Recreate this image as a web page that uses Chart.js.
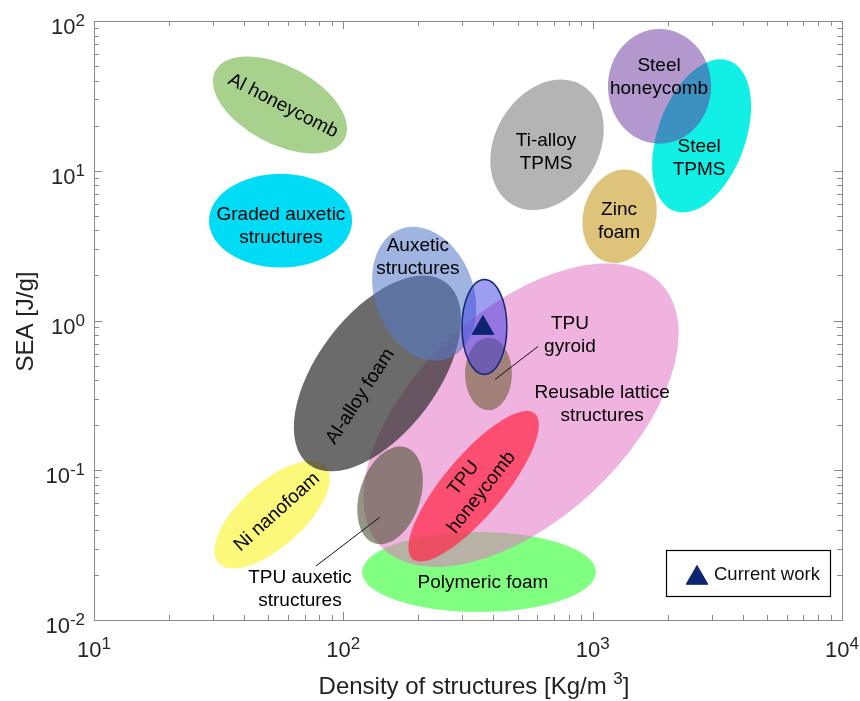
<!DOCTYPE html>
<html>
<head>
<meta charset="utf-8">
<script src="https://cdn.jsdelivr.net/npm/chart.js@4.4.1/dist/chart.umd.min.js"></script>
<style>
  html, body { margin: 0; padding: 0; background: #fff; }
  #chart { display: block; }
</style>
</head>
<body>
<canvas id="chart" width="860" height="701"></canvas>
<script>
// axis ticks (labelled decades)
const xTickValues = [10, 100, 1000, 10000];
const xTickExp = ['1', '2', '3', '4'];
const yTickValues = [0.01, 0.1, 1, 10, 100];
const yTickExp = ['-2', '-1', '0', '1', '2'];

// material regions, in drawing order (bottom first)
const regionNames = [
  'Polymeric foam', 'Ni nanofoam', 'Reusable lattice structures', 'Al-alloy foam',
  'Auxetic structures', 'TPU auxetic structures', 'TPU honeycomb', 'TPU gyroid',
  'Current work', 'Al honeycomb', 'Graded auxetic structures', 'Ti-alloy TPMS',
  'Steel TPMS', 'Steel honeycomb', 'Zinc foam'
];
// centre of each region
const regionDensity = [350, 51.8, 516, 137, 211, 154, 333, 382, 368, 55.7, 56.0, 656, 2735, 1854, 1282];
const regionSEA = [0.0209, 0.0505, 0.233, 0.443, 1.51, 0.068, 0.0782, 0.44, 0.906, 27.5, 4.64, 14.9, 17.1, 36.6, 4.97];
// half extent of each region, in decades
const regionSpanX = [0.469, 0.289, 0.770, 0.457, 0.198, 0.122, 0.381, 0.094, 0.090, 0.293, 0.287, 0.277, 0.321, 0.207, 0.146];
const regionSpanY = [0.267, 0.213, 0.70, 0.40, 0.46, 0.337, 0.20, 0.243, 0.317, 0.26, 0.313, 0.347, 0.293, 0.383, 0.317];

// region labels
const labelText = [
  ['Polymeric foam'], ['Ni nanofoam'], ['Reusable lattice', 'structures'], ['Al-alloy foam'],
  ['Auxetic', 'structures'], ['TPU auxetic', 'structures'], ['TPU', 'honeycomb'], ['TPU', 'gyroid'],
  ['Al honeycomb'], ['Graded auxetic', 'structures'], ['Ti-alloy', 'TPMS'], ['Steel', 'TPMS'],
  ['Steel', 'honeycomb'], ['Zinc', 'foam']
];
const labelDensity = [363, 54.2, 1091, 117, 199, 67, 330, 811, 57.3, 56.2, 650, 2673, 1846, 1276];
const labelSEA = [0.0176, 0.0525, 0.275, 0.311, 2.65, 0.016, 0.0794, 0.80, 27.1, 4.27, 13.2, 12.2, 42.0, 4.61];

// leader lines (gyroid, TPU auxetic)
const leaderFromDensity = [406, 140];
const leaderFromSEA = [0.404, 0.0486];
const leaderToDensity = [604, 77.6];
const leaderToSEA = [0.671, 0.0229];

// current work
const currentDensity = [363];
const currentSEA = [0.89];

// styles
const regionTilt = [0, -42, -43, -53, -20, 18, -50, 0, 0, 28, 0, -60, -70, 0, 15];
const regionColors = [
  'rgb(128,255,128)', '#fcf87a', 'rgba(228,115,195,0.55)', 'rgba(50,50,50,0.72)',
  'rgba(88,123,202,0.57)', 'rgba(80,85,58,0.62)', 'rgba(255,40,70,0.72)', 'rgba(130,110,80,0.7)',
  'rgba(60,60,230,0.5)', '#a9d18e', '#00dcf5', '#b4b4b4',
  '#12f0e6', 'rgba(101,49,155,0.5)', '#dec47a'
];
const regionBorders = [null, null, null, null, null, null, null, null, '#14286e', null, null, null, null, null, null];
const labelAngle = [0, -42, 0, -57, 0, 0, -52, 0, 27, 0, 0, 0, 0, 0];

const FONT = '"Liberation Sans", Arial, Helvetica, sans-serif';
const NAVY = '#0d2470';
const AXIS = '#8a8a8a';

const ashbyPlugin = {
  id: 'ashby',
  beforeDatasetsDraw(chart) {
    const { ctx } = chart;
    const xs = chart.scales.x;
    const ys = chart.scales.y;
    ctx.save();
    regionNames.forEach((name, i) => {
      const cx = xs.getPixelForValue(regionDensity[i]);
      const cy = ys.getPixelForValue(regionSEA[i]);
      const rx = xs.getPixelForValue(regionDensity[i] * Math.pow(10, regionSpanX[i])) - cx;
      const ry = cy - ys.getPixelForValue(regionSEA[i] * Math.pow(10, regionSpanY[i]));
      ctx.beginPath();
      ctx.ellipse(cx, cy, rx, ry, regionTilt[i] * Math.PI / 180, 0, Math.PI * 2);
      ctx.fillStyle = regionColors[i];
      ctx.fill();
      if (regionBorders[i]) {
        ctx.lineWidth = 1.5;
        ctx.strokeStyle = regionBorders[i];
        ctx.stroke();
      }
    });
    ctx.restore();
  },
  afterDatasetsDraw(chart) {
    const { ctx } = chart;
    const xs = chart.scales.x;
    const ys = chart.scales.y;
    ctx.save();
    // leader lines
    ctx.strokeStyle = '#111';
    ctx.lineWidth = 1;
    leaderFromDensity.forEach((d, i) => {
      ctx.beginPath();
      ctx.moveTo(xs.getPixelForValue(d), ys.getPixelForValue(leaderFromSEA[i]));
      ctx.lineTo(xs.getPixelForValue(leaderToDensity[i]), ys.getPixelForValue(leaderToSEA[i]));
      ctx.stroke();
    });
    // labels
    ctx.fillStyle = '#000';
    ctx.font = '19px ' + FONT;
    ctx.textAlign = 'center';
    ctx.textBaseline = 'middle';
    const lh = 23;
    labelText.forEach((lines, i) => {
      ctx.save();
      ctx.translate(xs.getPixelForValue(labelDensity[i]), ys.getPixelForValue(labelSEA[i]));
      ctx.rotate(labelAngle[i] * Math.PI / 180);
      lines.forEach((t, k) => {
        ctx.fillText(t, 0, (k - (lines.length - 1) / 2) * lh);
      });
      ctx.restore();
    });
    ctx.restore();
  },
  afterDraw(chart) {
    const { ctx, chartArea: a } = chart;
    const xs = chart.scales.x;
    const ys = chart.scales.y;
    ctx.save();
    // box
    ctx.strokeStyle = AXIS;
    ctx.lineWidth = 1;
    ctx.strokeRect(a.left + 0.5, a.top + 0.5, a.right - a.left, a.bottom - a.top);
    // tick marks, inward on all sides
    ctx.beginPath();
    for (let e = 1; e < 4; e++) {
      for (let k = 1; k <= 10; k++) {
        const v = k * Math.pow(10, e);
        const len = (k === 1 || k === 10) ? 8 : 5;
        const px = Math.round(xs.getPixelForValue(v)) + 0.5;
        ctx.moveTo(px, a.bottom); ctx.lineTo(px, a.bottom - len);
        ctx.moveTo(px, a.top); ctx.lineTo(px, a.top + len);
      }
    }
    for (let e = -2; e < 2; e++) {
      for (let k = 1; k <= 10; k++) {
        const v = k * Math.pow(10, e);
        const len = (k === 1 || k === 10) ? 8 : 5;
        const py = Math.round(ys.getPixelForValue(v)) + 0.5;
        ctx.moveTo(a.left, py); ctx.lineTo(a.left + len, py);
        ctx.moveTo(a.right, py); ctx.lineTo(a.right - len, py);
      }
    }
    ctx.stroke();

    // tick labels 10^n
    const mainFont = '22px ' + FONT;
    const supFont = '17px ' + FONT;
    ctx.fillStyle = '#262626';
    ctx.textBaseline = 'alphabetic';
    ctx.textAlign = 'left';
    xTickValues.forEach((v, i) => {
      ctx.font = mainFont;
      const w1 = ctx.measureText('10').width;
      ctx.font = supFont;
      const w2 = ctx.measureText(xTickExp[i]).width;
      const x0 = xs.getPixelForValue(v) - (w1 + w2) / 2;
      const base = a.bottom + 37;
      ctx.font = mainFont;
      ctx.fillText('10', x0, base);
      ctx.font = supFont;
      ctx.fillText(xTickExp[i], x0 + w1, base - 8);
    });
    yTickValues.forEach((v, i) => {
      ctx.font = mainFont;
      const w1 = ctx.measureText('10').width;
      ctx.font = supFont;
      const w2 = ctx.measureText(yTickExp[i]).width;
      const x0 = a.left - 9 - w1 - w2;
      const base = ys.getPixelForValue(v) + 13;
      ctx.font = mainFont;
      ctx.fillText('10', x0, base);
      ctx.font = supFont;
      ctx.fillText(yTickExp[i], x0 + w1, base - 8);
    });

    // axis titles
    ctx.fillStyle = '#222';
    const tFont = '24px ' + FONT;
    const tSup = '17px ' + FONT;
    ctx.font = tFont;
    const p1 = 'Density of structures [Kg/m ';
    const w1 = ctx.measureText(p1).width;
    const w3 = ctx.measureText(']').width;
    ctx.font = tSup;
    const w2 = ctx.measureText('3').width;
    let tx = (a.left + a.right) / 2 + 6 - (w1 + w2 + w3) / 2;
    const tb = a.bottom + 74;
    ctx.font = tFont;
    ctx.fillText(p1, tx, tb);
    ctx.font = tSup;
    ctx.fillText('3', tx + w1, tb - 10);
    ctx.font = tFont;
    ctx.fillText(']', tx + w1 + w2, tb);

    ctx.save();
    ctx.translate(33, (a.top + a.bottom) / 2 + 1);
    ctx.rotate(-Math.PI / 2);
    ctx.textAlign = 'center';
    ctx.font = tFont;
    ctx.fillText('SEA [J/g]', 0, 0);
    ctx.restore();

    // legend box
    const lx = a.right - 176, ly = a.bottom - 70, lw = 164, lhgt = 46;
    ctx.fillStyle = '#fff';
    ctx.fillRect(lx, ly, lw, lhgt);
    ctx.strokeStyle = '#000';
    ctx.lineWidth = 1.2;
    ctx.strokeRect(lx + 0.5, ly + 0.5, lw, lhgt);
    const ds = chart.data.datasets[0];
    ctx.fillStyle = ds.backgroundColor;
    ctx.strokeStyle = ds.borderColor;
    ctx.lineWidth = 1;
    Chart.helpers.drawPoint(ctx, { pointStyle: 'triangle', radius: 12.5, rotation: 0, borderWidth: 1 }, lx + 31, ly + 28);
    ctx.fillStyle = '#111';
    ctx.font = '18.5px ' + FONT;
    ctx.textAlign = 'left';
    ctx.textBaseline = 'alphabetic';
    ctx.fillText(ds.label, lx + 48, ly + 30);
    ctx.restore();
  }
};

new Chart(document.getElementById('chart'), {
  type: 'scatter',
  data: {
    datasets: [{
      label: 'Current work',
      data: currentDensity.map((d, i) => ({ x: d, y: currentSEA[i] })),
      pointStyle: 'triangle',
      pointRadius: 12.5,
      pointHoverRadius: 12.5,
      backgroundColor: NAVY,
      borderColor: NAVY,
      borderWidth: 1,
    }],
  },
  options: {
    responsive: false,
    animation: false,
    devicePixelRatio: 1,
    layout: { padding: { left: 94, right: 18, top: 21, bottom: 81 } },
    plugins: {
      legend: { display: false },
      tooltip: { enabled: false },
    },
    scales: {
      x: { type: 'logarithmic', min: 10, max: 10000, display: false },
      y: { type: 'logarithmic', min: 0.01, max: 100, display: false },
    },
  },
  plugins: [ashbyPlugin],
});
</script>
</body>
</html>
